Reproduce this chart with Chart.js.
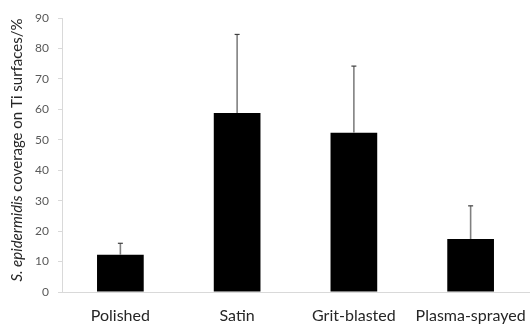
<!DOCTYPE html>
<html>
<head>
<meta charset="utf-8">
<script src="https://cdn.jsdelivr.net/npm/chart.js@4/dist/chart.umd.min.js"></script>
<style>
  html, body { margin: 0; padding: 0; background: #fff; }
  #wrap { width: 530px; height: 329px; position: relative; }
</style>
</head>
<body>
<div id="wrap"><canvas id="coverChart"></canvas></div>
<script>
// * data
const surfaces = ["Polished", "Satin", "Grit-blasted", "Plasma-sprayed"];
const coverage = [12.2, 58.8, 52.3, 17.4];
const coverageErr = [3.8, 25.8, 21.9, 10.9];
const yTicks = [0, 10, 20, 30, 40, 50, 60, 70, 80, 90];

const fontFam = "Lato, 'Open Sans', sans-serif";
const axisGray = "#d9d9d9";

// ? error bars, only the upper half like the original
const errorBars = {
  id: "errorBars",
  afterDatasetsDraw(chart) {
    const ctx = chart.ctx;
    const meta = chart.getDatasetMeta(0);
    const yScale = chart.scales.y;
    ctx.save();
    meta.data.forEach((bar, i) => {
      const yTop = yScale.getPixelForValue(coverage[i] + coverageErr[i]);
      ctx.strokeStyle = "#808080";
      ctx.lineWidth = 1.6;
      ctx.beginPath();
      ctx.moveTo(bar.x, bar.y);
      ctx.lineTo(bar.x, yTop);
      ctx.stroke();
      ctx.strokeStyle = "#404040";
      ctx.lineWidth = 1.2;
      ctx.beginPath();
      ctx.moveTo(bar.x - 2.5, yTop);
      ctx.lineTo(bar.x + 2.5, yTop);
      ctx.stroke();
    });
    ctx.restore();
  },
};

// ? y title with italic species name
const yTitle = {
  id: "yTitle",
  afterDraw(chart) {
    const ctx = chart.ctx;
    const partA = "S. epidermidis";
    const partB = " coverage on Ti surfaces/%";
    ctx.save();
    ctx.font = "italic 15px " + fontFam;
    const wA = ctx.measureText(partA).width;
    ctx.font = "15px " + fontFam;
    const wB = ctx.measureText(partB).width;
    ctx.translate(17, 150);
    ctx.rotate(-Math.PI / 2);
    ctx.fillStyle = "#262626";
    ctx.textBaseline = "middle";
    let x = -(wA + wB) / 2;
    ctx.font = "italic 15px " + fontFam;
    ctx.fillText(partA, x, 0);
    ctx.font = "15px " + fontFam;
    ctx.fillText(partB, x + wA, 0);
    ctx.restore();
  },
};

const ctx = document.getElementById("coverChart").getContext("2d");
new Chart(ctx, {
  type: "bar",
  data: {
    labels: surfaces,
    datasets: [
      {
        data: coverage,
        backgroundColor: "#000000",
        categoryPercentage: 1.0,
        barPercentage: 0.4,
      },
    ],
  },
  options: {
    responsive: true,
    maintainAspectRatio: false,
    animation: false,
    layout: { padding: { top: 18, right: 1, left: 0, bottom: 0 } },
    plugins: {
      legend: { display: false },
      tooltip: { enabled: false },
    },
    scales: {
      x: {
        grid: { display: false, drawTicks: false },
        border: { color: axisGray, width: 1 },
        ticks: {
          color: "#262626",
          font: { family: fontFam, size: 16 },
          padding: 14,
          maxRotation: 0,
          autoSkip: false,
        },
        afterFit(scale) {
          scale.height = 37;
          scale.paddingLeft = 0;
          scale.paddingRight = 0;
        },
      },
      y: {
        min: 0,
        max: 90,
        afterBuildTicks(scale) {
          scale.ticks = yTicks.map((v) => ({ value: v }));
        },
        grid: {
          drawOnChartArea: false,
          drawTicks: true,
          tickLength: 4,
          color: axisGray,
        },
        border: { color: axisGray, width: 1 },
        ticks: {
          color: "#595959",
          font: { family: fontFam, size: 12 },
          padding: 9,
        },
        afterFit(scale) {
          scale.width = 62;
          scale.paddingTop = 0;
          scale.paddingBottom = 0;
        },
      },
    },
  },
  plugins: [errorBars, yTitle],
});
</script>
</body>
</html>
